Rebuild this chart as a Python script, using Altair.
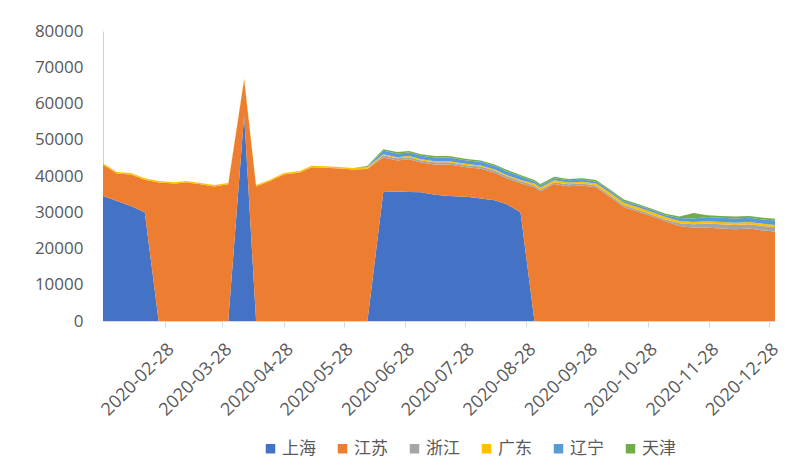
import altair as alt
import pandas as pd

dates = [
    "2020-01-28", "2020-02-04", "2020-02-11", "2020-02-18", "2020-02-25",
    "2020-03-04", "2020-03-10", "2020-03-17", "2020-03-24", "2020-03-31",
    "2020-04-08", "2020-04-14", "2020-04-21", "2020-04-28", "2020-05-06",
    "2020-05-12", "2020-05-19", "2020-05-26", "2020-06-02", "2020-06-09",
    "2020-06-17", "2020-06-24", "2020-06-30", "2020-07-06", "2020-07-13",
    "2020-07-20", "2020-07-29", "2020-08-05", "2020-08-12", "2020-08-18",
    "2020-08-25", "2020-09-01", "2020-09-04", "2020-09-11", "2020-09-18",
    "2020-09-25", "2020-10-02", "2020-10-09", "2020-10-16", "2020-10-23",
    "2020-10-30", "2020-11-06", "2020-11-13", "2020-11-20", "2020-11-27",
    "2020-12-04", "2020-12-11", "2020-12-18", "2020-12-25", "2020-12-31",
]

shanghai = [
    34500, 33100, 31700, 30000, 0,
    0, 0, 0, 0, 0,
    56800, 0, 0, 0, 0,
    0, 0, 0, 0, 0,
    35600, 35700, 35600, 35500, 34800,
    34500, 34300, 33800, 33300, 32200,
    30000, 0, 0, 0, 0,
    0, 0, 0, 0, 0,
    0, 0, 0, 0, 0,
    0, 0, 0, 0, 0,
]
jiangsu = [
    8600, 7600, 8700, 9000, 38200,
    37900, 38200, 37700, 37100, 37700,
    9800, 37100, 38600, 40400, 41000,
    42400, 42300, 42100, 41800, 41900,
    9500, 8600, 9000, 8200, 8400,
    8700, 8100, 8200, 7600, 7200,
    8000, 36900, 35800, 37800, 37200,
    37400, 36900, 34200, 31400, 30200,
    28900, 27500, 26200, 25700, 25700,
    25500, 25300, 25500, 25000, 24700,
]
zhejiang = [
    0, 0, 0, 0, 0,
    0, 0, 0, 0, 0,
    0, 0, 0, 0, 0,
    0, 0, 0, 0, 200,
    600, 600, 600, 600, 600,
    600, 600, 600, 600, 600,
    600, 500, 500, 500, 500,
    500, 500, 500, 500, 500,
    500, 500, 800, 1000, 1200,
    1200, 1200, 1200, 1200, 1200,
]
guangdong = [
    400, 400, 400, 400, 400,
    400, 400, 400, 400, 400,
    400, 400, 400, 400, 400,
    400, 400, 400, 400, 400,
    300, 300, 300, 300, 300,
    300, 300, 300, 300, 300,
    300, 500, 500, 500, 500,
    500, 500, 700, 700, 700,
    700, 700, 600, 600, 600,
    600, 600, 600, 600, 600,
]
liaoning = [
    0, 0, 0, 0, 0,
    0, 0, 0, 0, 0,
    0, 0, 0, 0, 0,
    0, 0, 0, 0, 200,
    1000, 1000, 1000, 1000, 1000,
    1000, 1000, 1000, 1000, 1000,
    1000, 600, 600, 600, 600,
    600, 600, 500, 500, 500,
    500, 500, 800, 1000, 1200,
    1200, 1200, 1200, 1200, 1200,
]
tianjin = [
    0, 0, 0, 0, 0,
    0, 0, 0, 0, 0,
    0, 0, 0, 0, 0,
    0, 0, 0, 0, 100,
    400, 400, 400, 400, 400,
    400, 400, 400, 400, 400,
    400, 400, 400, 400, 400,
    400, 400, 400, 400, 400,
    400, 400, 400, 1500, 500,
    500, 500, 500, 500, 500,
]

series_names = ["上海", "江苏", "浙江", "广东", "辽宁", "天津"]
series_colors = ["#4472C4", "#ED7D31", "#A5A5A5", "#FFC000", "#5B9BD5", "#70AD47"]
tick_dates = [
    (2020, 2, 28), (2020, 3, 28), (2020, 4, 28), (2020, 5, 28), (2020, 6, 28),
    (2020, 7, 28), (2020, 8, 28), (2020, 9, 28), (2020, 10, 28), (2020, 11, 28),
    (2020, 12, 28),
]
y_ticks = [0, 10000, 20000, 30000, 40000, 50000, 60000, 70000, 80000]

all_series = [shanghai, jiangsu, zhejiang, guangdong, liaoning, tianjin]
rows = []
for idx, (name, vals) in enumerate(zip(series_names, all_series)):
    for d, v in zip(dates, vals):
        rows.append({"date": d + "T00:00:00", "region": name, "value": v, "order": idx})
df = pd.DataFrame(rows)

label_color = "#595959"

chart = alt.Chart(df).mark_area(interpolate="linear").encode(
    x=alt.X(
        "date:T",
        scale=alt.Scale(domain=[alt.DateTime(year=2020, month=1, date=28),
                                alt.DateTime(year=2020, month=12, date=31)]),
        axis=alt.Axis(
            values=[alt.DateTime(year=y, month=m, date=d) for (y, m, d) in tick_dates],
            format="%Y-%m-%d", labelAngle=-45, title=None, grid=False,
            labelOverlap=False, labelFlush=False, labelBound=False,
            labelFontSize=18, labelPadding=13, tickSize=6,
            labelFont="Open Sans", labelColor=label_color,
            domainColor="#D9D9D9", tickColor="#D9D9D9",
        ),
    ),
    y=alt.Y(
        "value:Q", stack="zero",
        scale=alt.Scale(domain=[0, 80000], nice=False),
        axis=alt.Axis(
            values=y_ticks, format="d", title=None, grid=False, ticks=False,
            labelPadding=20, labelFontSize=17, labelFont="Open Sans",
            labelColor=label_color, domainColor="#D0D0D0",
        ),
    ),
    color=alt.Color(
        "region:N",
        scale=alt.Scale(domain=series_names, range=series_colors),
        legend=alt.Legend(
            title=None, orient="none", legendX=159, legendY=409,
            direction="horizontal", columns=6, columnPadding=18,
            symbolType="square", symbolSize=90, symbolStrokeWidth=0,
            labelFontSize=17, labelFont="Noto Sans CJK SC",
            labelColor=label_color, labelOffset=3,
        ),
    ),
    order=alt.Order("order:Q", sort="ascending"),
).properties(
    width=672, height=290,
    autosize=alt.AutoSizeParams(type="none"),
    padding={"left": 95, "top": 23, "right": 7, "bottom": 150},
).configure_view(stroke=None)

chart.save("out.html", embed_options={"renderer": "svg", "actions": False})
